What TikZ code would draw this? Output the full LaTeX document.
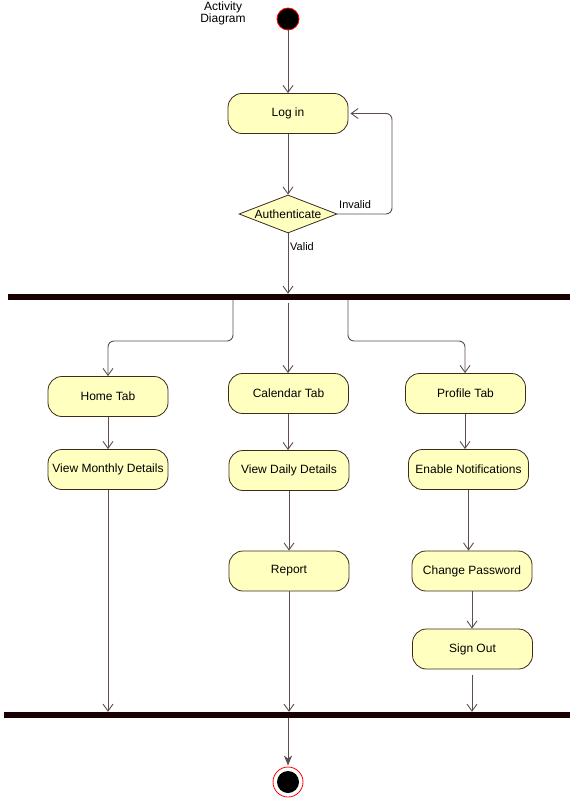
\documentclass[tikz,border=0pt]{standalone}
\usepackage{fontspec}
\setmainfont{Liberation Sans}
\usetikzlibrary{arrows.meta,shapes.geometric}
\definecolor{actfill}{HTML}{FFFFC0}
\definecolor{actline}{HTML}{3B2A1E}
\definecolor{flow}{HTML}{5E4D4D}
\definecolor{barcol}{HTML}{1A0000}
\tikzset{
  act/.style={draw=actline, fill=actfill, rounded corners=14pt, line width=0.8pt,
    minimum width=120pt, minimum height=40pt, font=\fontsize{12}{14}\selectfont, inner sep=2pt},
  decision/.style={draw=actline, fill=actfill, diamond, aspect=2.6, line width=0.8pt,
    minimum width=98pt, minimum height=38pt, inner sep=0pt, font=\fontsize{12}{14}\selectfont},
  bar/.style={fill=barcol, draw=none, rectangle, inner sep=0pt, minimum height=6pt},
  flowline/.style={draw=flow, line width=0.9pt, -{Straight Barb[length=7pt,width=10pt]}, rounded corners=6pt},
  lbl/.style={font=\fontsize{11}{13}\selectfont, inner sep=0pt},
}
\begin{document}
\begin{tikzpicture}[x=1pt,y=-1pt]
  \useasboundingbox (0,0) rectangle (573,799);

  % title and initial state
  \node[font=\fontsize{12}{12}\selectfont, align=center] (title) at (223,13) {Activity\\Diagram};
  \node[circle, fill=black, draw=red, line width=0.8pt, minimum size=22pt, inner sep=0pt] (start) at (288,19) {};

  % login and authentication
  \node[act] (login) at (288,113.5) {Log in};
  \node[decision] (auth) at (288,214) {Authenticate};
  \coordinate (loopA) at (392,214);
  \coordinate (loopB) at (392,113.5);

  % fork and join bars
  \node[bar, minimum width=562pt] (fork) at (289,297) {};
  \node[bar, minimum width=566pt] (join) at (287,715) {};

  % left branch
  \node[act] (home) at (108,396.5) {Home Tab};
  \node[act] (monthly) at (108,469.5) {View Monthly Details};

  % middle branch
  \node[act] (calendar) at (288.5,393.5) {Calendar Tab};
  \node[act] (daily) at (289,470.5) {View Daily Details};
  \node[act] (report) at (289,571) {Report};

  % right branch
  \node[act] (profile) at (465.5,393.5) {Profile Tab};
  \node[act] (notif) at (468.5,469.5) {Enable Notifications};
  \node[act] (password) at (472,571) {Change Password};
  \node[act] (signout) at (472.5,649) {Sign Out};

  % final state
  \node[circle, draw=red, fill=white, line width=0.8pt, minimum size=30pt, inner sep=0pt] (final) at (288,782) {};
  \node[circle, fill=black, minimum size=22pt, inner sep=0pt] (finaldot) at (288,782) {};

  % flows
  \draw[flowline] (start) -- (login);
  \draw[flowline] (login) -- (auth);
  \draw[flowline] (auth.east) -- (loopA) -- (loopB) -- ([xshift=2pt]login.east);
  \node[lbl, anchor=west] (invalid) at (339,205) {Invalid};
  \draw[flowline] (auth.south) -- (auth.south |- fork.north);
  \node[lbl, anchor=west] (valid) at (290,247) {Valid};

  \coordinate (fl) at (233,300);
  \coordinate (fr) at (348,300);
  \draw[flowline] (fl) -- (233,341) -- (108,341) -- (home.north);
  \draw[flowline] (288,303) -- (calendar.north -| 288,0);
  \draw[flowline] (fr) -- (348,341) -- (465,341) -- (profile.north -| 465,0);

  \draw[flowline] (home) -- (monthly);
  \draw[flowline] (monthly.south) -- (monthly.south |- join.north);

  \draw[flowline] (calendar.south -| 288,0) -- (daily.north -| 288,0);
  \draw[flowline] (daily) -- (report);
  \draw[flowline] (report.south) -- (report.south |- join.north);

  \draw[flowline] (profile.south -| 465,0) -- (notif.north -| 465,0);
  \draw[flowline] (notif.south) -- (password.north -| notif.south);
  \draw[flowline] (password) -- (signout.north -| password.south);
  \draw[flowline] ([yshift=-6pt]signout.south -| 472,0) -- (join.north -| 472,0);

  \draw[draw=flow, line width=0.9pt, -{Stealth[length=10pt,width=8pt,inset=3pt]}, shorten >=1pt] (join.south -| 288,0) -- (final.north);
\end{tikzpicture}
\end{document}
